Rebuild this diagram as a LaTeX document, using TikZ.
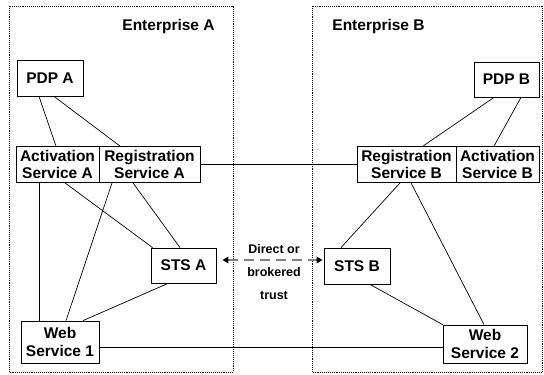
\documentclass[tikz,border=0pt]{standalone}
\usepackage{fontspec}
\setmainfont{Liberation Sans}
\usetikzlibrary{arrows.meta}
\begin{document}
\begin{tikzpicture}[x=1pt,y=-1pt,
  box/.style={draw, line width=0.8pt, inner sep=0pt, align=center,
    font=\bfseries\fontsize{15.5}{17.5}\selectfont},
  link/.style={line width=0.7pt},
  zone/.style={densely dotted, line width=0.9pt},
  title/.style={font=\bfseries\fontsize{15.5}{18}\selectfont},
  trust/.style={draw=black!50, line width=2.6pt, dash pattern=on 10pt off 6pt,
    {Triangle[black,length=6pt,width=6.5pt]}-{Triangle[black,length=6pt,width=6.5pt]}}]
\useasboundingbox (0,0) rectangle (544,375);

% enterprise domains
\draw[zone] (9,6) rectangle (233,372);
\draw[zone] (312,6) rectangle (542.5,372);
\node[title] (enta) at (168.5,26) {Enterprise A};
\node[title] (entb) at (378.5,26) {Enterprise B};

% Enterprise A components
\node[box, minimum width=66pt, minimum height=36pt] (pdpa) at (50,78) {PDP A};
\node[box, minimum width=83pt, minimum height=36pt] (acta) at (57.5,164.5) {Activation\\Service A};
\node[box, minimum width=101pt, minimum height=36pt] (rega) at (149.5,164.5) {Registration\\Service A};
\node[box, minimum width=65pt, minimum height=35pt] (stsa) at (183.5,265.5) {STS A};
\node[box, minimum width=78pt, minimum height=42pt] (wsa) at (60,342) {Web\\Service 1};

% Enterprise B components
\node[box, minimum width=65pt, minimum height=35pt] (pdpb) at (506.5,79.5) {PDP B};
\node[box, minimum width=99pt, minimum height=36pt] (regb) at (406.5,164.5) {Registration\\Service B};
\node[box, minimum width=83pt, minimum height=36pt] (actb) at (497.5,164.5) {Activation\\Service B};
\node[box, minimum width=66pt, minimum height=36pt] (stsb) at (357,266) {STS B};
\node[box, minimum width=84pt, minimum height=38pt] (wsb) at (485,344) {Web\\Service 2};

% links inside Enterprise A
\draw[link] ([xshift=-11pt]pdpa.south) -- ([xshift=-1.5pt]acta.north);
\draw[link] ([xshift=4pt]pdpa.south) -- ([xshift=-29.5pt]rega.north);
\draw[link] ([xshift=-18.5pt]acta.south) -- ([xshift=-21pt]wsa.north);
\draw[link] ([xshift=7.5pt]acta.south) -- ([xshift=2pt]stsa.north west);
\draw[link] ([xshift=-37.5pt]rega.south) -- ([xshift=6pt]wsa.north);
\draw[link] ([xshift=-16.5pt]rega.south) -- ([xshift=-3.5pt]stsa.north);
\draw[link] ([xshift=-15.5pt]stsa.south) -- ([xshift=23pt]wsa.north);

% links inside Enterprise B
\draw[link] ([xshift=-12.5pt]pdpb.south) -- ([xshift=16.5pt]regb.north);
\draw[link] ([xshift=14.5pt]pdpb.south) -- ([xshift=-3.5pt]actb.north);
\draw[link] ([xshift=-6.5pt]regb.south) -- ([xshift=-16pt]stsb.north);
\draw[link] ([xshift=4.5pt]regb.south) -- ([xshift=-1pt]wsb.north);
\draw[link] ([xshift=13pt]stsb.south) -- (wsb.north west);

% links across the enterprises
\draw[link] (rega.east) -- (regb.west);
\draw[link] ([yshift=-5pt]wsa.east) -- ([yshift=-3pt]wsb.west);

% trust relation between the token services
\draw[trust, shorten <=6pt, shorten >=1pt] ([yshift=5.5pt]stsa.east) -- ([yshift=6pt]stsb.west);
\node[align=center, font=\bfseries\fontsize{12.5}{23}\selectfont] (trustlbl) at (274,272) {Direct or\\brokered\\trust};
\end{tikzpicture}
\end{document}
